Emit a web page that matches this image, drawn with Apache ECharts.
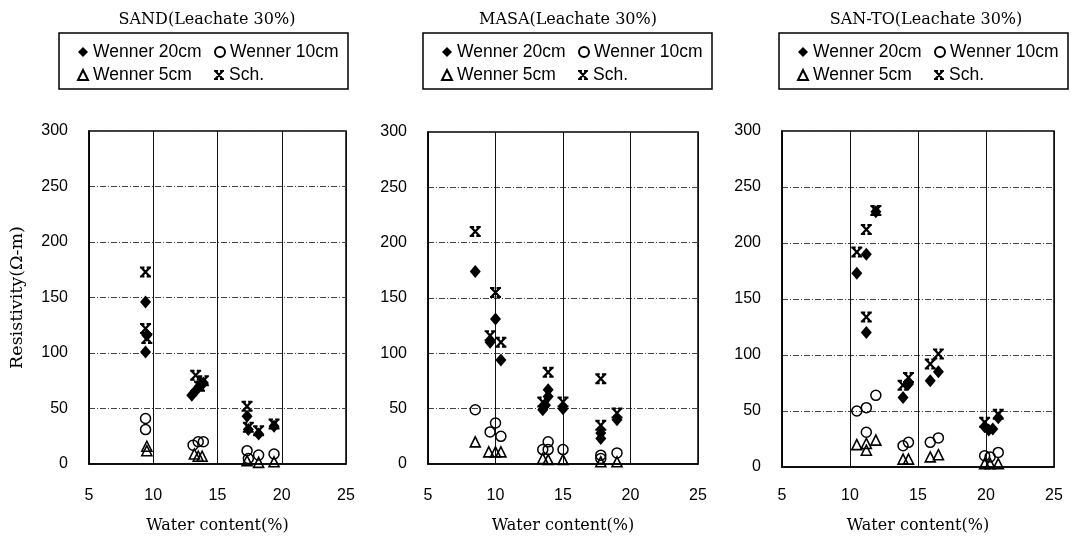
<!DOCTYPE html>
<html>
<head>
<meta charset="utf-8">
<script src="https://cdn.jsdelivr.net/npm/echarts@6/dist/echarts.min.js"></script>
<style>
  html, body { margin: 0; padding: 0; background: #fff; }
  #chart { width: 1072px; height: 536px; }
</style>
</head>
<body>
<div id="chart"></div>
<script>
// panel titles
var panelTitles = ['SAND(Leachate 30%)', 'MASA(Leachate 30%)', 'SAN-TO(Leachate 30%)']
var seriesNames = ['Wenner 20cm', 'Wenner 10cm', 'Wenner 5cm', 'Sch.']
var xTicks = [5, 10, 15, 20, 25]
var yTicks = [0, 50, 100, 150, 200, 250, 300]

// SAND  [water content %, resistivity]
var sandW20 = [[9.4, 146], [9.5, 116], [9.4, 101], [13.0, 62], [13.3, 66], [13.6, 70], [13.9, 73], [17.3, 43], [17.4, 31], [18.2, 27], [19.4, 34]]
var sandW10 = [[9.4, 41], [9.4, 31], [13.1, 17], [13.5, 20], [13.9, 20], [17.3, 12], [17.4, 5], [18.2, 8], [19.4, 9]]
var sandW5 = [[9.5, 16], [9.5, 12], [13.2, 9], [13.5, 7], [13.8, 7], [17.3, 3], [18.2, 1.5], [19.4, 2]]
var sandSch = [[9.4, 173], [9.4, 122], [9.5, 113], [13.3, 80], [13.6, 70], [13.9, 75], [17.3, 52], [17.4, 33], [18.2, 30], [19.4, 36]]

// MASA
var masaW20 = [[8.5, 174], [10.0, 131], [9.6, 110], [10.4, 94], [13.9, 67], [13.9, 61], [13.7, 53], [13.5, 49], [15.0, 50], [17.8, 28], [17.8, 23], [19.0, 40]]
var masaW10 = [[8.5, 49], [9.6, 29], [10.0, 37], [10.4, 25], [13.9, 20], [13.5, 13], [13.9, 13], [15.0, 13], [17.8, 8], [17.8, 5], [19.0, 10]]
var masaW5 = [[8.5, 20], [9.5, 11], [10.0, 11], [10.4, 11], [13.5, 5], [13.9, 4], [15.0, 4], [17.8, 2], [19.0, 2]]
var masaSch = [[8.5, 210], [10.0, 155], [9.6, 116], [10.4, 110], [13.9, 83], [13.5, 56], [15.0, 56], [17.8, 77], [17.8, 35], [19.0, 46]]

// SAN-TO
var santoW20 = [[11.9, 228], [11.2, 190], [10.5, 173], [11.2, 120], [13.9, 62], [14.3, 74], [15.9, 77], [16.5, 85], [19.9, 36], [20.2, 33], [20.5, 34], [20.9, 44]]
var santoW10 = [[10.5, 50], [11.2, 53], [11.9, 64], [11.2, 31], [13.9, 19], [14.3, 22], [15.9, 22], [16.5, 26], [19.9, 10], [20.3, 9], [20.9, 13]]
var santoW5 = [[10.5, 20], [11.2, 21], [11.2, 15], [11.9, 24], [13.9, 7], [14.3, 7], [15.9, 9], [16.5, 11], [19.9, 3], [20.3, 3], [20.9, 3]]
var santoSch = [[11.9, 229], [11.2, 212], [10.5, 192], [11.2, 134], [13.9, 73], [14.3, 80], [15.9, 92], [16.5, 101], [19.9, 40], [20.9, 47]]

var panelData = [
  [sandW20, sandW10, sandW5, sandSch],
  [masaW20, masaW10, masaW5, masaSch],
  [santoW20, santoW10, santoW5, santoSch]
]

var chart = echarts.init(document.getElementById('chart'))

var numFont = 'Liberation Sans, Arial, sans-serif'
var serifFont = 'DejaVu Serif, serif'
// bold X with short serifs at its four ends, like the Sch. mark (all parts wound the same way)
var schPath = 'path://M0,0H4V1.8H0Z M6,0H10V1.8H6Z M0,8.2H4V10H0Z M6,8.2H10V10H6Z M0.6,1.8H3.4L9.4,8.2H6.6Z M6.6,1.8H9.4L3.4,8.2H0.6Z'

var grids = [
  { left: 89, top: 131, width: 257, height: 333 },
  { left: 428, top: 132, width: 270, height: 332 },
  { left: 782, top: 131, width: 272, height: 336 }
]
var titleX = [202, 563, 921]
var legendX = [59, 423, 779]
var xNameGap = [54, 54, 51]
var xLabelMargin = [24, 24, 21]

var markStyles = [
  { symbol: 'diamond', symbolSize: [11, 13], itemStyle: { color: '#000', opacity: 1 }, z: 4 },
  { symbol: 'circle', symbolSize: 10, itemStyle: { color: 'rgba(0,0,0,0)', borderColor: '#000', borderWidth: 1.5, opacity: 1 }, z: 3 },
  { symbol: 'triangle', symbolSize: 10, itemStyle: { color: 'rgba(0,0,0,0)', borderColor: '#000', borderWidth: 1.6, opacity: 1 }, z: 3 },
  { symbol: schPath, symbolSize: [11, 11], itemStyle: { color: '#000', opacity: 1 }, z: 5 }
]

var option = {
  backgroundColor: '#fff',
  animation: false,
  title: [],
  legend: [],
  grid: [],
  xAxis: [],
  yAxis: [],
  series: []
}

for (var p = 0; p < 3; p++) {
  option.title.push({
    text: panelTitles[p],
    left: titleX[p],
    top: 7,
    textAlign: 'center',
    textStyle: { fontFamily: serifFont, fontSize: 16, fontWeight: 'normal', color: '#000' }
  })
  option.legend.push({
    left: legendX[p],
    top: 33,
    width: 275,
    padding: [10, 2, 5, 18],
    itemGap: 5,
    itemWidth: 10,
    itemHeight: 10,
    selectedMode: false,
    borderColor: '#000',
    borderWidth: 1.5,
    itemStyle: { opacity: 1 },
    data: seriesNames,
    textStyle: { fontFamily: numFont, fontSize: 17.5, color: '#000', width: 116, lineHeight: 17 }
  })
  option.grid.push(Object.assign({ show: true, borderColor: '#000', borderWidth: 1.5, containLabel: false, outerBoundsMode: 'none' }, grids[p]))
  option.xAxis.push({
    type: 'value',
    gridIndex: p,
    min: xTicks[0],
    max: xTicks[xTicks.length - 1],
    interval: 5,
    name: 'Water content(%)',
    nameLocation: 'middle',
    nameGap: xNameGap[p],
    nameTextStyle: { fontFamily: serifFont, fontSize: 16, color: '#000' },
    axisLine: { lineStyle: { color: '#000', width: 1.5 } },
    axisTick: { show: false },
    axisLabel: { margin: xLabelMargin[p], fontFamily: numFont, fontSize: 16, color: '#000' },
    splitLine: { show: true, lineStyle: { color: '#111', width: 1 } }
  })
  option.yAxis.push({
    type: 'value',
    gridIndex: p,
    min: yTicks[0],
    max: yTicks[yTicks.length - 1],
    interval: 50,
    name: p === 0 ? 'Resistivity(Ω-m)' : '',
    nameLocation: 'middle',
    nameGap: 63,
    nameTextStyle: { fontFamily: serifFont, fontSize: 17.5, color: '#000' },
    axisLine: { lineStyle: { color: '#000', width: 1.5 } },
    axisTick: { show: false },
    axisLabel: { margin: 21, fontFamily: numFont, fontSize: 16, color: '#000' },
    splitLine: { show: true, lineStyle: { color: '#444', width: 1, type: [6, 2, 1, 2] } }
  })
  for (var s = 0; s < 4; s++) {
    option.series.push(Object.assign({
      type: 'scatter',
      name: seriesNames[s],
      xAxisIndex: p,
      yAxisIndex: p,
      data: panelData[p][s]
    }, markStyles[s]))
  }
}

chart.setOption(option)
</script>
</body>
</html>
